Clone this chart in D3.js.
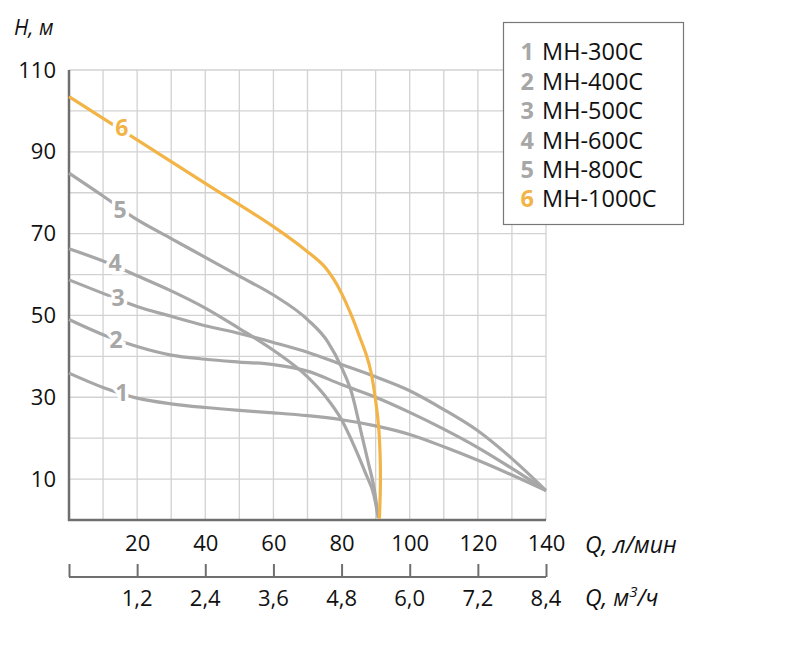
<!DOCTYPE html>
<html>
<head>
<meta charset="utf-8">
<script src="https://cdn.jsdelivr.net/npm/d3@7"></script>
<style>
  body { margin: 0; background: #fff; }
  svg { display: block; font-family: "Open Sans", "Noto Sans", sans-serif; }
</style>
</head>
<body>
<svg id="chart" width="805" height="656"></svg>
<script>
// Q, л/мин -> H, м for each pump
const models = ["MH-300C", "MH-400C", "MH-500C", "MH-600C", "MH-800C", "MH-1000C"];

const q1 = [0, 10, 20, 30, 40, 50, 60, 70, 80, 90, 100, 110, 120, 130, 140];
const h1 = [35.9, 32.4, 29.8, 28.4, 27.5, 26.8, 26.2, 25.5, 24.5, 23.0, 20.9, 17.9, 14.6, 11.0, 7.2];

const q2 = [0, 10, 20, 30, 40, 50, 60, 70, 80, 90, 100, 110, 120, 130, 140];
const h2 = [49.0, 45.3, 42.4, 40.3, 39.3, 38.6, 38.0, 36.4, 33.1, 30.0, 26.3, 22.2, 17.7, 12.6, 7.2];

const q3 = [0, 10, 20, 30, 40, 50, 60, 70, 80, 90, 100, 110, 120, 130, 140];
const h3 = [58.7, 55.4, 52.2, 49.8, 47.5, 45.6, 43.4, 41.0, 38.0, 35.0, 31.6, 27.0, 21.8, 15.0, 7.2];

const q4 = [0, 10, 20, 30, 40, 50, 60, 70, 75, 80, 84, 87, 89.5, 90.8];
const h4 = [66.3, 63.3, 59.7, 56.0, 51.8, 46.8, 41.5, 35.0, 30.5, 24.5, 17.5, 11.5, 6.0, 0.5];

const q5 = [0, 10, 20, 30, 40, 50, 60, 70, 76, 80, 83, 86, 88, 89.5, 90.8];
const h5 = [84.8, 79.2, 73.4, 68.8, 64.2, 59.6, 55.0, 49.0, 43.5, 37.3, 31.0, 20.5, 13.5, 8.0, 0.5];

const q6 = [0, 20, 40, 60, 70, 74.6, 77.5, 80, 82.9, 85.3, 87.2, 88.6, 90.1, 90.9, 91.3, 91.4, 91.1];
const h6 = [103.5, 92.9, 82.3, 71.7, 65.6, 62.3, 59.1, 55.4, 50.0, 44.8, 40.5, 36.3, 28.6, 22.5, 16.0, 9.0, 0.3];

// where the curve numbers sit (Q, H)
const labelQ = [15.5, 13.8, 14.4, 13.5, 15, 15.5];
const labelH = [31, 44, 54.3, 63, 75.8, 95.8];

const flowTicks = [20, 40, 60, 80, 100, 120, 140];
const m3Ticks = [0, 1.2, 2.4, 3.6, 4.8, 6.0, 7.2, 8.4];
const headTicks = [10, 30, 50, 70, 90, 110];

const curves = [[q1, h1], [q2, h2], [q3, h3], [q4, h4], [q5, h5], [q6, h6]];

const grey = "#a7a7a7", orange = "#f2b447";
const colorOf = i => i === 5 ? orange : grey;

const svg = d3.select("#chart");

const x = d3.scaleLinear().domain([0, 140]).range([69, 546]);
const x2 = d3.scaleLinear().domain([0, 8.4]).range([69, 546]);
const y = d3.scaleLinear().domain([0, 110]).range([520, 70]);

// grid
svg.append("g").selectAll("line")
  .data(d3.range(10, 141, 10))
  .join("line")
  .attr("x1", d => x(d)).attr("x2", d => x(d))
  .attr("y1", y(0)).attr("y2", y(110))
  .attr("stroke", "#d2d2d2").attr("stroke-width", 1.3);

svg.append("g").selectAll("line")
  .data(d3.range(10, 111, 10))
  .join("line")
  .attr("x1", x(0)).attr("x2", x(140))
  .attr("y1", d => y(d)).attr("y2", d => y(d))
  .attr("stroke", "#d2d2d2").attr("stroke-width", 1.3);

// main axis lines
svg.append("line")
  .attr("x1", x(0)).attr("x2", x(0)).attr("y1", y(110)).attr("y2", y(0) + 1)
  .attr("stroke", "#6f6f6f").attr("stroke-width", 2.5);
svg.append("line")
  .attr("x1", x(0) - 1).attr("x2", x(140)).attr("y1", y(0)).attr("y2", y(0))
  .attr("stroke", "#6f6f6f").attr("stroke-width", 2.5);

// y labels
const yAxis = svg.append("g")
  .attr("transform", `translate(${x(0)},0)`)
  .call(d3.axisLeft(y).tickValues(headTicks).tickSize(0).tickPadding(13));
yAxis.select(".domain").remove();
yAxis.selectAll("text")
  .attr("font-size", 22).attr("fill", "#111").attr("font-family", "Open Sans, sans-serif");

// Q, л/мин labels
const xAxis = svg.append("g")
  .attr("transform", `translate(0,${y(0)})`)
  .call(d3.axisBottom(x).tickValues(flowTicks).tickSize(0).tickPadding(15));
xAxis.select(".domain").remove();
xAxis.selectAll("text")
  .attr("font-size", 22).attr("fill", "#111").attr("font-family", "Open Sans, sans-serif");

// second scale, м3/ч
const axis2Y = 577;
const x2Axis = svg.append("g")
  .attr("transform", `translate(0,${axis2Y})`)
  .call(d3.axisTop(x2).tickValues(m3Ticks).tickSize(13).tickFormat(""));
x2Axis.select(".domain")
  .attr("d", `M${x2(0)},0H${x2(8.4)}`)
  .attr("stroke", "#6f6f6f").attr("stroke-width", 2);
x2Axis.selectAll(".tick line").attr("stroke", "#6f6f6f").attr("stroke-width", 2);

svg.append("g").selectAll("text")
  .data(m3Ticks.slice(1))
  .join("text")
  .attr("x", d => x2(d)).attr("y", 606)
  .attr("text-anchor", "middle")
  .attr("font-size", 22).attr("fill", "#111")
  .text(d => d3.format(".1f")(d).replace(".", ","));

// axis titles
svg.append("text")
  .attr("x", 14).attr("y", 35)
  .attr("font-size", 21).attr("font-style", "italic").attr("fill", "#111")
  .text("H, м");

svg.append("text")
  .attr("x", 585).attr("y", 553)
  .attr("font-size", 23).attr("font-style", "italic").attr("fill", "#111")
  .text("Q, л/мин");

const m3Title = svg.append("text")
  .attr("x", 585).attr("y", 606)
  .attr("font-size", 23).attr("font-style", "italic").attr("fill", "#111");
m3Title.append("tspan").text("Q, м");
m3Title.append("tspan").attr("dy", -9).attr("font-size", 15).text("3");
m3Title.append("tspan").attr("dy", 9).text("/ч");

// curves: grey ones run left to right, the orange one bends back at the bottom
const greyLine = d3.line()
  .x(d => x(d[0]))
  .y(d => y(d[1]))
  .curve(d3.curveMonotoneX);
const orangeLine = d3.line()
  .x(d => x(d[0]))
  .y(d => y(d[1]))
  .curve(d3.curveCatmullRom.alpha(0.5));

svg.append("g").selectAll("path")
  .data(curves)
  .join("path")
  .attr("d", ([qs, hs], i) => (i === 5 ? orangeLine : greyLine)(qs.map((q, k) => [q, hs[k]])))
  .attr("fill", "none")
  .attr("stroke", (d, i) => colorOf(i))
  .attr("stroke-width", 3.2)
  .attr("stroke-linejoin", "round");

// curve numbers, white halo breaks the line
svg.append("g").selectAll("text")
  .data(models)
  .join("text")
  .attr("x", (d, i) => x(labelQ[i]))
  .attr("y", (d, i) => y(labelH[i]))
  .attr("dy", "0.36em")
  .attr("text-anchor", "middle")
  .attr("font-size", 23).attr("font-weight", "bold")
  .attr("fill", (d, i) => colorOf(i))
  .attr("stroke", "#fff").attr("stroke-width", 7)
  .attr("paint-order", "stroke")
  .text((d, i) => i + 1);

// legend
const legend = svg.append("g");
legend.append("rect")
  .attr("x", 503.5).attr("y", 22.5).attr("width", 180).attr("height", 202)
  .attr("fill", "#fff").attr("stroke", "#777").attr("stroke-width", 1.2);

const rows = legend.selectAll("g")
  .data(models)
  .join("g")
  .attr("transform", (d, i) => `translate(0,${52 + i * 29.4})`);
rows.append("text")
  .attr("x", 534).attr("dy", "0.36em").attr("text-anchor", "end")
  .attr("font-size", 23.5).attr("font-weight", "bold")
  .attr("fill", (d, i) => colorOf(i))
  .text((d, i) => i + 1);
rows.append("text")
  .attr("x", 542).attr("dy", "0.36em")
  .attr("font-size", 23.5).attr("fill", "#111")
  .text(d => d);
</script>
</body>
</html>
